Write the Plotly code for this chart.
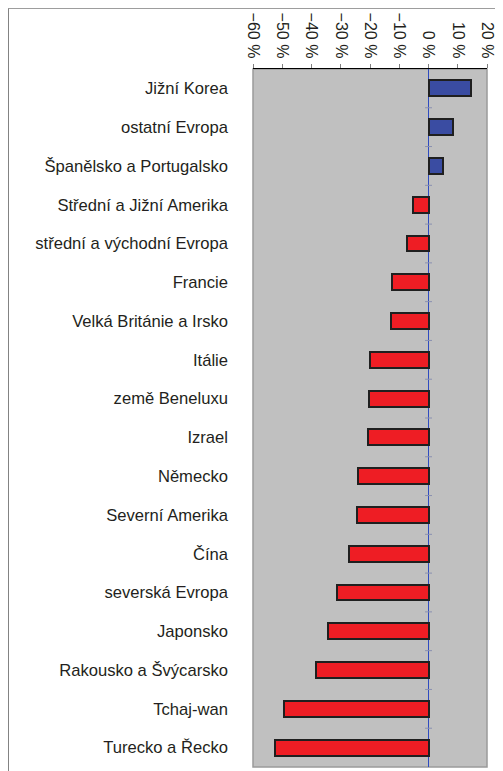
import plotly.graph_objects as go

# Data (percent change), top to bottom
regions = [
    "Jižní Korea", "ostatní Evropa", "Španělsko a Portugalsko",
    "Střední a Jižní Amerika", "střední a východní Evropa", "Francie",
    "Velká Británie a Irsko", "Itálie", "země Beneluxu", "Izrael",
    "Německo", "Severní Amerika", "Čína", "severská Evropa",
    "Japonsko", "Rakousko a Švýcarsko", "Tchaj-wan", "Turecko a Řecko",
]
change = [14.5, 8.4, 5.1, -5.2, -7.4, -12.5, -12.9, -20.1, -20.4, -20.7,
          -24.0, -24.6, -27.2, -31.4, -34.4, -38.4, -49.4, -52.4]
tick_vals = [-60, -50, -40, -30, -20, -10, 0, 10, 20]
tick_text = ["\u221260 %", "\u221250 %", "\u221240 %", "\u221230 %", "\u221220 %",
             "\u221210 %", "0 %", "10 %", "20 %"]

pos = list(range(len(regions)))
colors = ["#3a4ca2" if v > 0 else "#ee1d24" for v in change]

fig = go.Figure()

fig.add_trace(go.Bar(
    x=change,
    y=pos,
    orientation="h",
    width=0.41,
    marker=dict(color=colors, line=dict(color="#1f1f1f", width=2)),
    hoverinfo="skip",
))

# small tick marks on the zero axis between categories
fig.add_trace(go.Scatter(
    x=[0] * (len(regions) - 1),
    y=[p + 0.5 for p in pos[:-1]],
    mode="markers",
    marker=dict(symbol="line-ew", size=5, line=dict(color="#8a90b0", width=1)),
    hoverinfo="skip",
))

# page body adds an 8px offset, so the figure is sized to fit the window
fig.update_layout(
    width=495,
    height=763,
    margin=dict(l=245, r=16, t=61, b=4),
    paper_bgcolor="white",
    plot_bgcolor="#c0c0c0",
    showlegend=False,
    font=dict(family="Liberation Sans, Arial, sans-serif", size=16, color="#231f20"),
    bargap=0,
)

fig.update_xaxes(
    side="top",
    range=[-60, 20],
    tickvals=tick_vals,
    ticktext=tick_text,
    tickangle=90,
    tickfont=dict(size=16),
    ticks="outside",
    ticklen=4,
    tickcolor="#808080",
    showgrid=False,
    showline=True,
    linecolor="black",
    linewidth=1,
    zeroline=True,
    zerolinecolor="#2e4bc0",
    zerolinewidth=1,
)

fig.update_yaxes(
    range=[len(regions) - 0.5, -0.5],
    tickvals=pos,
    ticktext=regions,
    tickfont=dict(size=16.6),
    ticks="",
    ticklabelstandoff=24,
    showgrid=False,
    zeroline=False,
    showline=False,
)

# grey border around plot area
fig.add_shape(type="rect", xref="x domain", yref="y domain",
              x0=0, x1=1, y0=0, y1=1, line=dict(color="#9a9a9a", width=1.5),
              layer="below")
# outer frame of the chart
fig.add_shape(type="rect", xref="paper", yref="paper",
              x0=-1.045, x1=1.1, y0=-0.03, y1=1.087,
              line=dict(color="#808080", width=1))

fig.write_html("out.html")
